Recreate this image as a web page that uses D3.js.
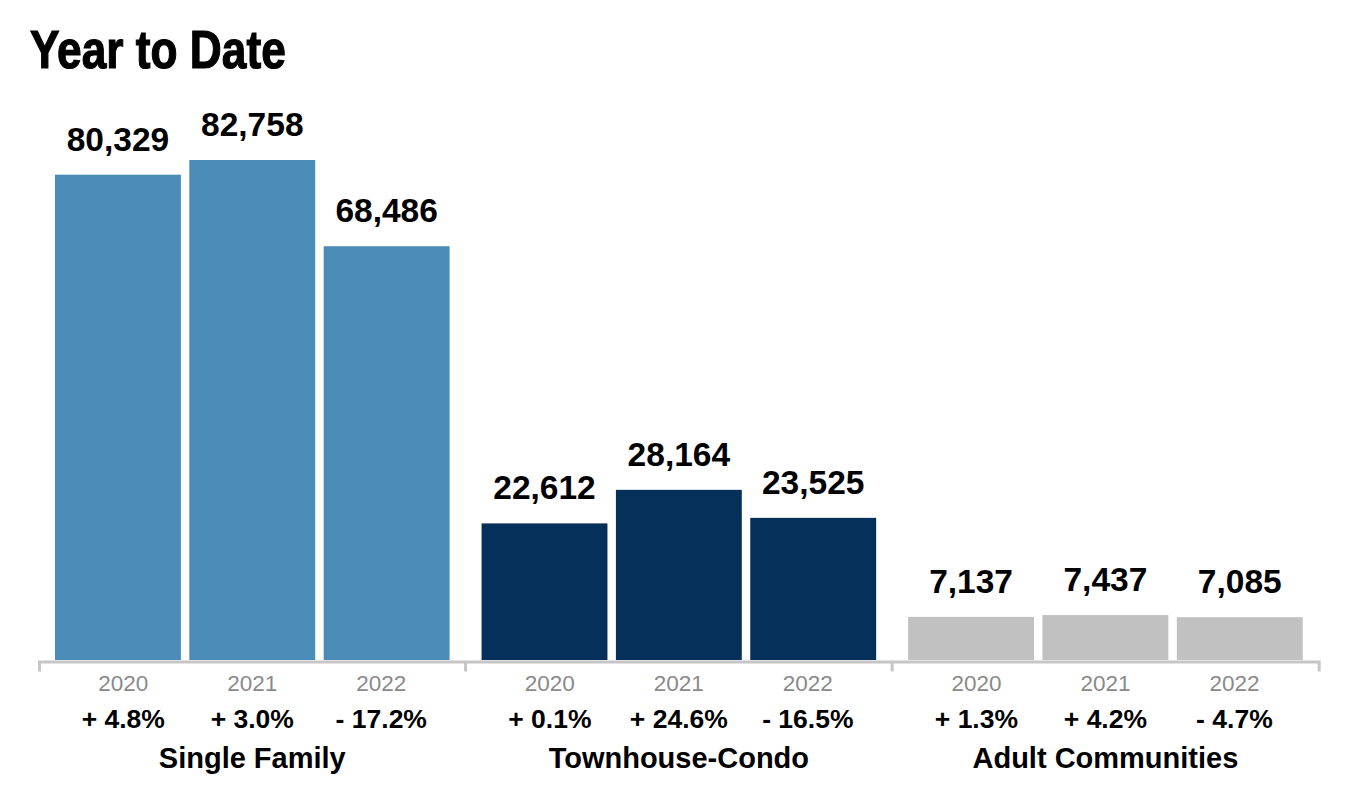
<!DOCTYPE html>
<html>
<head>
<meta charset="utf-8">
<script src="https://cdn.jsdelivr.net/npm/d3@7"></script>
<style>
  body { margin: 0; background: #fff; }
  svg { display: block; }
  text { font-family: "Liberation Sans", Arial, Helvetica, sans-serif; }
</style>
</head>
<body>
<div id="chart"></div>
<script>
// data
var categories = ["Single Family", "Townhouse-Condo", "Adult Communities"]
var years = ["2020", "2021", "2022"]
var singleFamily = [80329, 82758, 68486]
var townhouseCondo = [22612, 28164, 23525]
var adultCommunities = [7137, 7437, 7085]
var sfChange = [4.8, 3.0, -17.2]
var tcChange = [0.1, 24.6, -16.5]
var acChange = [1.3, 4.2, -4.7]
var colors = ["#4a8cb7", "#05305a", "#c1c1c1"]

var series = [singleFamily, townhouseCondo, adultCommunities]
var changes = [sfChange, tcChange, acChange]

var width = 1364, height = 802
var baseline = 660

var svg = d3.select("#chart").append("svg")
svg.attr("width", width).attr("height", height)

// condensed heavy title: squeeze the regular bold face horizontally
svg.append("text")
   .text("Year to Date")
   .attr("transform", "translate(30,68) scale(0.835,1)")
   .attr("font-weight", "bold")
   .attr("font-size", 53)
   .attr("fill", "#000")
   .attr("stroke", "#000")
   .attr("stroke-width", 1.2)

var x0 = d3.scaleBand()
           .domain(categories)
           .range([39, 1318.7])
           .padding(0)

var x1 = d3.scaleBand()
           .domain(years)
           .range([0, x0.bandwidth()])
           .paddingInner(0.063)
           .paddingOuter(0.119)

var y = d3.scaleLinear()
          .domain([0, 90000])
          .range([baseline, baseline - 90000 * 500 / 82758])

var fmt = d3.format(",")

var groups = svg.selectAll("g.group")
                .data(categories)
                .enter()
                .append("g")
                .attr("class", "group")
                .attr("transform", function(d) { return "translate(" + x0(d) + ",0)" })

groups.each(function(cat, gi) {
  var g = d3.select(this)
  var vals = series[gi]
  var center = x0.bandwidth() / 2
  var xl = d3.scalePoint().domain(years).range([center - 129, center + 129])

  g.selectAll("rect")
   .data(vals)
   .enter()
   .append("rect")
   .attr("x", function(d, i) { return x1(years[i]) })
   .attr("y", function(d) { return y(d) })
   .attr("width", x1.bandwidth())
   .attr("height", function(d) { return baseline - y(d) })
   .attr("fill", colors[gi])

  g.selectAll("text.value")
   .data(vals)
   .enter()
   .append("text")
   .attr("class", "value")
   .text(function(d) { return fmt(d) })
   .attr("x", function(d, i) { return x1(years[i]) + x1.bandwidth() / 2 })
   .attr("y", function(d) { return y(d) - 24 })
   .attr("text-anchor", "middle")
   .attr("font-weight", "bold")
   .attr("font-size", 33.5)

  g.selectAll("text.year")
   .data(years)
   .enter()
   .append("text")
   .attr("class", "year")
   .text(function(d) { return d })
   .attr("x", function(d) { return xl(d) })
   .attr("y", 691)
   .attr("text-anchor", "middle")
   .attr("font-size", 22.5)
   .attr("fill", "#8a8a8a")

  g.selectAll("text.change")
   .data(changes[gi])
   .enter()
   .append("text")
   .attr("class", "change")
   .text(function(d) { return (d < 0 ? "- " : "+ ") + Math.abs(d).toFixed(1) + "%" })
   .attr("x", function(d, i) { return xl(years[i]) })
   .attr("y", 728)
   .attr("text-anchor", "middle")
   .attr("font-weight", "bold")
   .attr("font-size", 26.5)

  g.append("text")
   .text(cat)
   .attr("x", center)
   .attr("y", 768)
   .attr("text-anchor", "middle")
   .attr("font-weight", "bold")
   .attr("font-size", 29)
})

// category axis along the bottom
var axis = d3.axisBottom(x0)
             .tickValues([])
             .tickSizeOuter(10)
var axisG = svg.append("g")
               .attr("transform", "translate(0," + (baseline + 1.5) + ")")
               .call(axis)
axisG.select(".domain").attr("stroke", "#c6c6c6").attr("stroke-width", 3)

axisG.selectAll("line.sep")
     .data(categories.slice(1))
     .enter()
     .append("line")
     .attr("class", "sep")
     .attr("x1", function(d) { return x0(d) })
     .attr("x2", function(d) { return x0(d) })
     .attr("y1", 0)
     .attr("y2", 10)
     .attr("stroke", "#c6c6c6")
     .attr("stroke-width", 3)
</script>
</body>
</html>
